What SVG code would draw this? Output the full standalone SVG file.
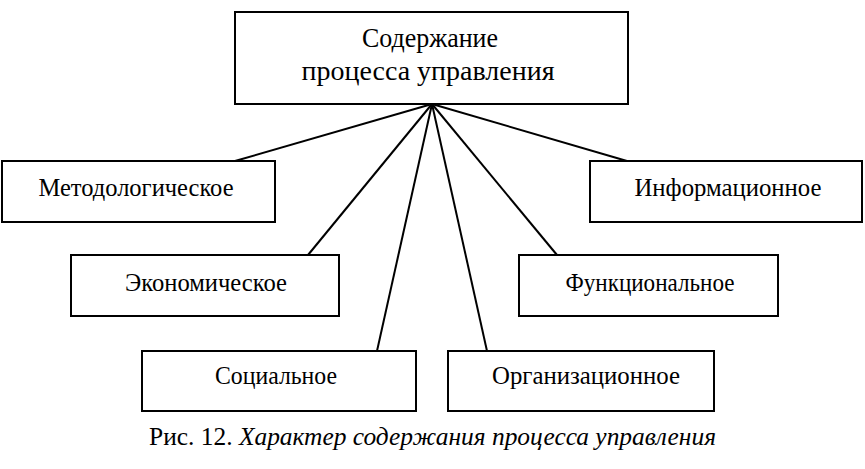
<svg xmlns="http://www.w3.org/2000/svg" width="865" height="469" viewBox="0 0 865 469">
<style>
.box{fill:#fff;stroke:#000;stroke-width:2}
.lbl{font-size:26px;text-anchor:middle}
.top{font-size:28px;text-anchor:middle}
.conn line{stroke:#000;stroke-width:2}
.cap{font-size:25px}
</style>
<rect width="865" height="469" fill="#fff"/>
<g id="connectors" class="conn">
<line x1="432" y1="104" x2="235" y2="161"/>
<line x1="432" y1="104" x2="308" y2="255"/>
<line x1="432" y1="104" x2="377" y2="351"/>
<line x1="432" y1="104" x2="487" y2="351"/>
<line x1="432" y1="104" x2="557" y2="255"/>
<line x1="432" y1="104" x2="627" y2="161"/>
</g>
<g font-family="Liberation Serif, Times New Roman, Times, DejaVu Serif, serif" fill="#000">
<g id="root">
<rect class="box" x="235" y="12" width="393" height="92"/>
<text class="top" x="430" y="47" textLength="136" lengthAdjust="spacingAndGlyphs">Содержание</text>
<text class="top" x="428" y="80" textLength="253" lengthAdjust="spacingAndGlyphs">процесса управления</text>
</g>
<g id="n-method">
<rect class="box" x="2" y="161" width="273" height="61"/>
<text class="lbl" x="136" y="196" textLength="195" lengthAdjust="spacingAndGlyphs">Методологическое</text>
</g>
<g id="n-info">
<rect class="box" x="590" y="161" width="272" height="61"/>
<text class="lbl" x="728" y="196" textLength="187" lengthAdjust="spacingAndGlyphs">Информационное</text>
</g>
<g id="n-econ">
<rect class="box" x="71" y="255" width="268" height="61"/>
<text class="lbl" x="206" y="291" textLength="162" lengthAdjust="spacingAndGlyphs">Экономическое</text>
</g>
<g id="n-func">
<rect class="box" x="519" y="255" width="259" height="61"/>
<text class="lbl" x="650" y="291" textLength="169" lengthAdjust="spacingAndGlyphs">Функциональное</text>
</g>
<g id="n-soc">
<rect class="box" x="142" y="351" width="274" height="60"/>
<text class="lbl" x="276" y="384" textLength="122" lengthAdjust="spacingAndGlyphs">Социальное</text>
</g>
<g id="n-org">
<rect class="box" x="448" y="351" width="266" height="60"/>
<text class="lbl" x="586" y="384" textLength="188" lengthAdjust="spacingAndGlyphs">Организационное</text>
</g>
<text class="cap" x="149" y="445" textLength="567" lengthAdjust="spacingAndGlyphs">Рис. 12. <tspan font-style="italic">Характер содержания процесса управления</tspan></text>
</g>
</svg>
